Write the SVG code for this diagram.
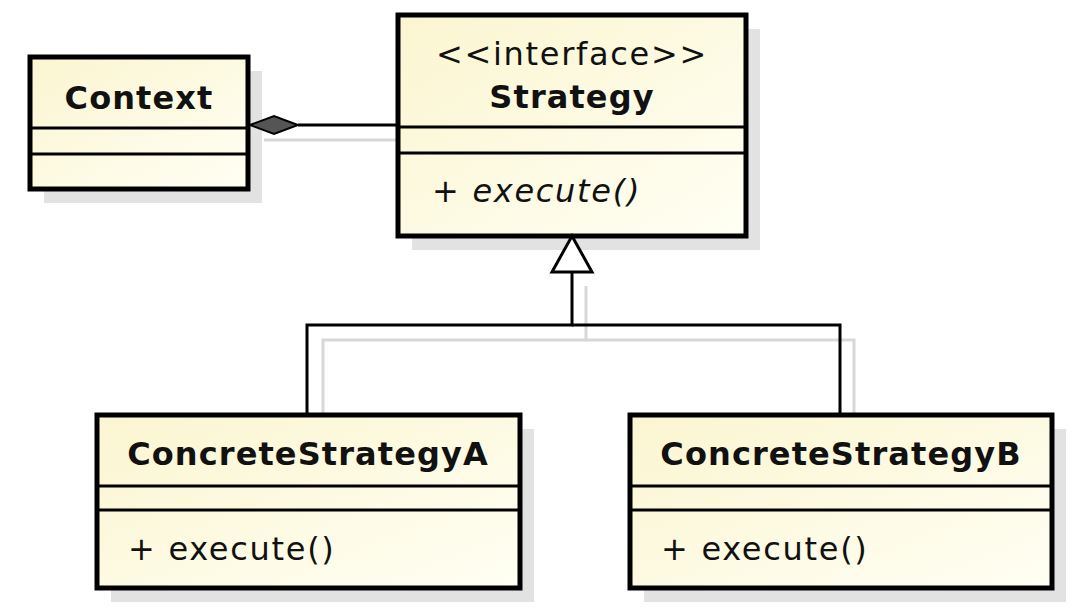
<svg xmlns="http://www.w3.org/2000/svg" width="1080" height="613" viewBox="0 0 1080 613">
<defs>
<linearGradient id="g" x1="0" y1="0" x2="1" y2="1"><stop offset="0" stop-color="#fbf5d0"/><stop offset="1" stop-color="#fffff4"/></linearGradient>
</defs>
<style>
.sh{fill:#e2e2e2}
.box{fill:url(#g);stroke:#000;stroke-width:5}
.ln{stroke:#000;stroke-width:3;fill:none}
.sl{stroke:#d8d8d8;stroke-width:3;fill:none}
text{font-family:"DejaVu Sans",sans-serif;font-size:32px;fill:#111;letter-spacing:1.7px}
.b{font-weight:bold;letter-spacing:1.1px}
</style>
<rect width="1080" height="613" fill="#fff"/>
<g id="shadows-connectors">
<polyline class="sl" points="264,140 412,140"/>
<polyline class="sl" points="586,286 586,340 323,340 323,415"/>
<polyline class="sl" points="586,340 854,340 854,415"/>
</g>
<g id="context">
<rect class="sh" x="44" y="71" width="218" height="132"/>
<rect class="box" x="30" y="57" width="218" height="132"/>
<line class="ln" x1="30" y1="128" x2="248" y2="128"/><line class="ln" x1="30" y1="154" x2="248" y2="154"/>
<text class="b" x="139" y="109" text-anchor="middle">Context</text>
</g>
<g id="strategy">
<rect class="sh" x="412" y="29" width="348" height="221"/>
<rect class="box" x="398" y="15" width="348" height="221"/>
<line class="ln" x1="398" y1="127" x2="746" y2="127"/><line class="ln" x1="398" y1="153" x2="746" y2="153"/>
<text x="572" y="65" text-anchor="middle">&lt;&lt;interface&gt;&gt;</text>
<text class="b" x="572" y="108" text-anchor="middle">Strategy</text>
<text x="432" y="202" font-style="italic">+ execute()</text>
</g>
<g id="concreteA">
<rect class="sh" x="111" y="429" width="423" height="173"/>
<rect class="box" x="97" y="415" width="423" height="173"/>
<line class="ln" x1="97" y1="486" x2="520" y2="486"/><line class="ln" x1="97" y1="510" x2="520" y2="510"/>
<text class="b" x="308" y="465" text-anchor="middle">ConcreteStrategyA</text>
<text x="128" y="560">+ execute()</text>
</g>
<g id="concreteB">
<rect class="sh" x="644" y="429" width="422" height="173"/>
<rect class="box" x="630" y="415" width="422" height="173"/>
<line class="ln" x1="630" y1="486" x2="1052" y2="486"/><line class="ln" x1="630" y1="510" x2="1052" y2="510"/>
<text class="b" x="841" y="465" text-anchor="middle">ConcreteStrategyB</text>
<text x="661" y="560">+ execute()</text>
</g>
<g id="connectors">
<line class="ln" x1="298" y1="125" x2="398" y2="125"/>
<polygon points="250,125 274,116 298,125 274,134" fill="#555" stroke="#000" stroke-width="2"/>
<polygon points="572,236 592,272 552,272" fill="#fff" stroke="#000" stroke-width="3"/>
<polyline class="ln" points="572,272 572,325 307,325 307,415"/>
<polyline class="ln" points="572,325 840,325 840,415"/>
</g>
</svg>
